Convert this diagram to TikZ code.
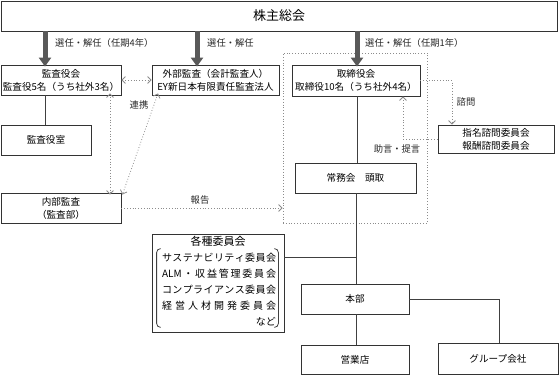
\documentclass[tikz,border=0pt]{standalone}
\usepackage{fontspec}
\setmainfont{Noto Sans CJK JP}
\usetikzlibrary{arrows.meta,calc}
\newcommand\fsbox{\fontsize{9.6}{13}\selectfont}
\newcommand\fslab{\fontsize{9.3}{12}\selectfont}
\begin{document}
\begin{tikzpicture}[x=1pt,y=-1pt,
  box/.style={draw=black!80, line width=0.8pt, inner sep=0pt, align=center, font=\fsbox, fill=white},
  lab/.style={inner sep=0pt, font=\fslab, text=black!85},
  solidline/.style={draw=black!75, line width=0.8pt},
  dotline/.style={draw=black!45, dotted, line width=0.8pt},
  dotarrow/.style={dotline, -{Straight Barb[length=3.5pt,width=7pt]}},
  dotdouble/.style={dotline, {Straight Barb[length=3.5pt,width=7pt]}-{Straight Barb[length=3.5pt,width=7pt]}},
  thickarrow/.style={draw=black!65, line width=5pt, -{Triangle[length=9pt,width=12pt]}},
  kline/.style={inner sep=0pt, font=\fontsize{10}{12}\selectfont}
]
\useasboundingbox (0,0) rectangle (560,375);

% boxes
\node[box, minimum width=556, minimum height=30, font=\fontsize{13}{15}\selectfont] (sh) at (279,16) {株主総会};
\node[box, minimum width=120, minimum height=30] (kansa) at (61,80) {監査役会\\監査役5名（うち社外3名）};
\node[box, minimum width=127, minimum height=30] (gaibu) at (215.5,80) {外部監査（会計監査人）\\EY新日本有限責任監査法人};
\node[box, minimum width=128, minimum height=31] (tori) at (356,80.5) {取締役会\\取締役10名（うち社外4名）};
\node[box, minimum width=116, minimum height=28] (shimei) at (496,139) {指名諮問委員会\\報酬諮問委員会};
\node[box, minimum width=90, minimum height=30] (shitsu) at (46,140) {監査役室};
\node[box, minimum width=120, minimum height=30] (naibu) at (61,208) {内部監査\\（監査部）};
\node[box, minimum width=121, minimum height=30] (jomu) at (355.5,178) {常務会　頭取};
\node[box, minimum width=132, minimum height=98] (kakushu) at (218,283) {};
\node[box, minimum width=108, minimum height=30] (honbu) at (355,299) {本部};
\node[box, minimum width=108, minimum height=29] (eigyo) at (355,359.5) {営業店};
\node[box, minimum width=120, minimum height=31] (group) at (498,358.5) {グループ会社};

% dotted enclosure
\node[draw=black!45, dotted, line width=0.8pt, minimum width=144, minimum height=170, inner sep=0pt] (encl) at (355,138) {};

% contents of kakushu
\node[inner sep=0pt, font=\fontsize{11}{13}\selectfont] (ktitle) at ($(kakushu.north)+(0,8)$) {各種委員会};
\node[kline] (k1) at ($(kakushu.north)+(1,24)$) {\makebox[114pt][s]{サ\hfill ス\hfill テ\hfill ナ\hfill ビ\hfill リ\hfill テ\hfill ィ\hfill 委\hfill 員\hfill 会}};
\node[kline] (k2) at ($(kakushu.north)+(1,40)$) {\makebox[114pt][s]{ALM\hfill ・\hfill 収\hfill 益\hfill 管\hfill 理\hfill 委\hfill 員\hfill 会}};
\node[kline] (k3) at ($(kakushu.north)+(1,56)$) {\makebox[114pt][s]{コ\hfill ン\hfill プ\hfill ラ\hfill イ\hfill ア\hfill ン\hfill ス\hfill 委\hfill 員\hfill 会}};
\node[kline] (k4) at ($(kakushu.north)+(1,72)$) {\makebox[114pt][s]{経\hfill 営\hfill 人\hfill 材\hfill 開\hfill 発\hfill 委\hfill 員\hfill 会}};
\node[kline, anchor=east] (k5) at ($(kakushu.north)+(58,88)$) {など};
\draw[solidline, rounded corners=4pt] ($(kakushu.north west)+(9,15)$) -- ($(kakushu.north west)+(5,15)$) -- ($(kakushu.south west)+(5,-5)$) -- ($(kakushu.south west)+(9,-5)$);
\draw[solidline, rounded corners=4pt] ($(kakushu.north east)+(-10,15)$) -- ($(kakushu.north east)+(-6,15)$) -- ($(kakushu.south east)+(-6,-5)$) -- ($(kakushu.south east)+(-10,-5)$);

% thick arrows from shareholders
\draw[thickarrow] ([xshift=-16]kansa.north |- sh.south) -- ([xshift=-16,yshift=-2]kansa.north);
\draw[thickarrow] ([xshift=-18.5]gaibu.north |- sh.south) -- ([xshift=-18.5,yshift=-2]gaibu.north);
\draw[thickarrow] ([xshift=1]tori.north |- sh.south) -- ([xshift=1,yshift=-2]tori.north);
\node[lab, anchor=west] (l1) at (55,43) {選任・解任（任期4年）};
\node[lab, anchor=west] (l2) at (207,43) {選任・解任};
\node[lab, anchor=west] (l3) at (365,43) {選任・解任（任期1年）};

% solid connectors
\draw[solidline] ([xshift=-16]kansa.south) -- ([xshift=-1]shitsu.north);
\draw[solidline] ([xshift=1]tori.south) -- ([xshift=1.5]jomu.north);
\draw[solidline] ([xshift=0.5]jomu.south) -- ([xshift=1]honbu.north);
\draw[solidline] (kakushu.east |- 0,257) -- ([xshift=1]honbu.north |- 0,257);
\draw[solidline] (honbu.east) -| ([xshift=1]group.north);
\draw[solidline] ([xshift=1]honbu.south) -- ([xshift=1]eigyo.north);

% dotted connectors
\draw[dotdouble] (kansa.east) -- (gaibu.west);
\node[lab] (renkei) at (139,105) {連携};
\draw[dotdouble] ([xshift=49,yshift=2]kansa.south) -- ([xshift=49,yshift=-2]naibu.north);
\draw[dotdouble] ([xshift=-57.5,yshift=2]gaibu.south) -- ([xshift=1,yshift=-2]naibu.north east);
\draw[dotarrow] (tori.east) -| ([xshift=-44]shimei.north);
\node[lab] (shimon) at (466,102) {諮問};
\draw[dotarrow] (shimei.west) -| ([xshift=47]tori.south);
\node[lab] (jogen) at (397,149) {助言・提言};
\draw[dotarrow] (naibu.east) -- (encl.west |- naibu.east);
\node[lab] (hokoku) at (200,200) {報告};
\end{tikzpicture}
\end{document}
